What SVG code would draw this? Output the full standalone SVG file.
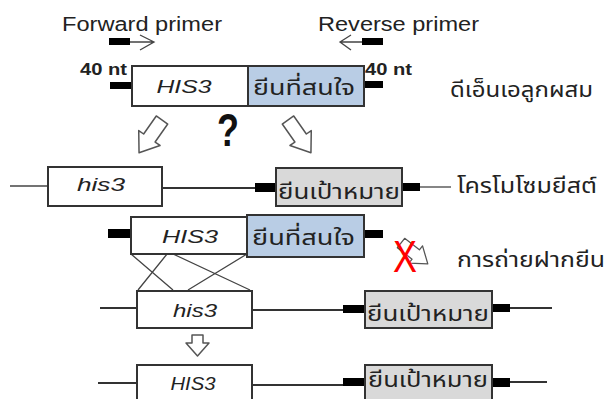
<svg xmlns="http://www.w3.org/2000/svg" width="610" height="399" viewBox="0 0 610 399">
<style>
.box{fill:#ffffff;stroke:#333333;stroke-width:2}
.blue{fill:#b9cde5;stroke:#333333;stroke-width:2}
.gray{fill:#d9d9d9;stroke:#333333;stroke-width:2}
.bar{fill:#000000}
.ln{stroke:#333333;stroke-width:2;fill:none}
.thin{stroke:#444444;stroke-width:1.3;fill:none}
.hol{fill:#ffffff;stroke:#555555;stroke-width:1.5;stroke-linejoin:round}
.lab{font-family:"Liberation Sans",Arial,sans-serif;font-size:20px;fill:#222222}
.nt{font-family:"Liberation Sans",Arial,sans-serif;font-size:16px;font-weight:bold;fill:#222222}
.gene{font-family:"Liberation Sans",Arial,sans-serif;font-size:19px;font-style:italic;fill:#222222;text-anchor:middle}
.th{font-family:"Noto Sans Thai","Noto Sans","DejaVu Sans",sans-serif;font-size:22px;fill:#222222}
</style>
<defs>
<path id="harrow" d="M-7,0 L7,0 L7,22 L13,22 L0,40 L-13,22 L-7,22 Z"/>
</defs>

<g id="connectors">
  <!-- primers -->
  <rect class="bar" x="109" y="38" width="21" height="7"/>
  <path class="thin" d="M130,42 L153,42 M140,35 L154,42 L140,50"/>
  <rect class="bar" x="362" y="38" width="21" height="7"/>
  <path class="thin" d="M362,42 L341,42 M351,35 L340,42 L351,50"/>
  <!-- row 1 ends -->
  <rect class="bar" x="110" y="82" width="22" height="7"/>
  <rect class="bar" x="364" y="81" width="19" height="7"/>
  <!-- hollow arrows -->
  <use href="#harrow" class="hol" transform="translate(162,120) rotate(35)"/>
  <use href="#harrow" class="hol" transform="translate(288,120) rotate(-35)"/>
  <!-- row 2 -->
  <line class="thin" x1="10" y1="186" x2="48" y2="186"/>
  <line class="ln" x1="162" y1="188" x2="256" y2="188"/>
  <rect class="bar" x="255" y="183" width="21" height="9"/>
  <rect class="bar" x="402" y="183" width="18" height="8"/>
  <line class="thin" x1="420" y1="187" x2="451" y2="187"/>
  <!-- row 3 ends -->
  <rect class="bar" x="108" y="229" width="23" height="9"/>
  <rect class="bar" x="364" y="230" width="19" height="8"/>
  <!-- crossed arrow -->
  <use href="#harrow" class="hol" transform="translate(401,243) rotate(-52) scale(0.85)"/>
  <!-- crossover lines -->
  <path class="thin" d="M131,254 L173,290 M167,254 L138,290 M173,254 L250,290 M247,254 L188,290"/>
  <!-- row 4 -->
  <line class="ln" x1="100" y1="308" x2="138" y2="308"/>
  <line class="ln" x1="252" y1="310" x2="344" y2="310"/>
  <rect class="bar" x="343" y="305" width="22" height="8"/>
  <rect class="bar" x="492" y="304" width="18" height="8"/>
  <line class="ln" x1="510" y1="308" x2="552" y2="308"/>
  <!-- small down arrow -->
  <path class="hol" d="M192,335 L203,335 L203,343 L209,343 L197.5,356 L186,343 L192,343 Z"/>
  <!-- row 5 -->
  <line class="ln" x1="98" y1="383" x2="138" y2="383"/>
  <line class="ln" x1="252" y1="385" x2="344" y2="385"/>
  <rect class="bar" x="343" y="378" width="22" height="8"/>
  <rect class="bar" x="492" y="378" width="18" height="9"/>
  <line class="ln" x1="510" y1="382" x2="547" y2="382"/>
</g>

<g id="labels">
  <text class="lab" x="62" y="31" textLength="160" lengthAdjust="spacingAndGlyphs">Forward primer</text>
  <text class="lab" x="318" y="31" textLength="161" lengthAdjust="spacingAndGlyphs">Reverse primer</text>
  <text class="nt" x="80" y="75" textLength="47" lengthAdjust="spacingAndGlyphs">40 nt</text>
  <text class="nt" x="365" y="75" textLength="47" lengthAdjust="spacingAndGlyphs">40 nt</text>
  <text x="228" y="146" font-family="Liberation Sans,Arial,sans-serif" font-size="46" font-weight="bold" fill="#111111" text-anchor="middle" textLength="22" lengthAdjust="spacingAndGlyphs">?</text>
  <text class="th" x="450" y="97" textLength="143" lengthAdjust="spacingAndGlyphs">ดีเอ็นเอลูกผสม</text>
  <text class="th" x="457" y="193" textLength="140" lengthAdjust="spacingAndGlyphs">โครโมโซมยีสต์</text>
  <text class="th" x="457" y="267" textLength="148" lengthAdjust="spacingAndGlyphs">การถ่ายฝากยีน</text>
  <text x="405" y="272" font-family="Liberation Sans,Arial,sans-serif" font-size="44" fill="#ff0000" text-anchor="middle" textLength="24" lengthAdjust="spacingAndGlyphs">X</text>
</g>

<g id="node-recombinant">
  <rect class="box" x="132" y="66" width="116" height="40"/>
  <text class="gene" x="184" y="93" textLength="55" lengthAdjust="spacingAndGlyphs">HIS3</text>
  <rect class="blue" x="248" y="66" width="116" height="40"/>
  <text class="th" x="253" y="95" textLength="102" lengthAdjust="spacingAndGlyphs">ยีนที่สนใจ</text>
</g>

<g id="node-chrom-his3">
  <rect class="box" x="48" y="167" width="114" height="39"/>
  <text class="gene" x="101" y="191" textLength="48" lengthAdjust="spacingAndGlyphs" font-size="18">his3</text>
</g>
<g id="node-chrom-target">
  <rect class="gray" x="276" y="168" width="126" height="38"/>
  <text class="th" x="278" y="199" textLength="122" lengthAdjust="spacingAndGlyphs" font-size="24">ยีนเป้าหมาย</text>
</g>

<g id="node-insert">
  <rect class="box" x="131" y="217" width="116" height="37"/>
  <text class="gene" x="190" y="243" textLength="56" lengthAdjust="spacingAndGlyphs">HIS3</text>
  <rect class="blue" x="247" y="215" width="117" height="42"/>
  <text class="th" x="252" y="245" textLength="103" lengthAdjust="spacingAndGlyphs">ยีนที่สนใจ</text>
</g>

<g id="node-row4-his3">
  <rect class="box" x="137" y="291" width="115" height="37"/>
  <text class="gene" x="195" y="317" textLength="44" lengthAdjust="spacingAndGlyphs" font-size="18">his3</text>
</g>
<g id="node-row4-target">
  <rect class="gray" x="365" y="291" width="127" height="37"/>
  <text class="th" x="367" y="321" textLength="122" lengthAdjust="spacingAndGlyphs" font-size="24">ยีนเป้าหมาย</text>
</g>

<g id="node-row5-his3">
  <rect class="box" x="137" y="365" width="115" height="40"/>
  <text class="gene" x="193" y="390" textLength="45" lengthAdjust="spacingAndGlyphs" font-size="18">HIS3</text>
</g>
<g id="node-row5-target">
  <rect class="gray" x="365" y="365" width="127" height="40"/>
  <text class="th" x="368" y="387" textLength="120" lengthAdjust="spacingAndGlyphs" font-size="20">ยีนเป้าหมาย</text>
</g>
</svg>
